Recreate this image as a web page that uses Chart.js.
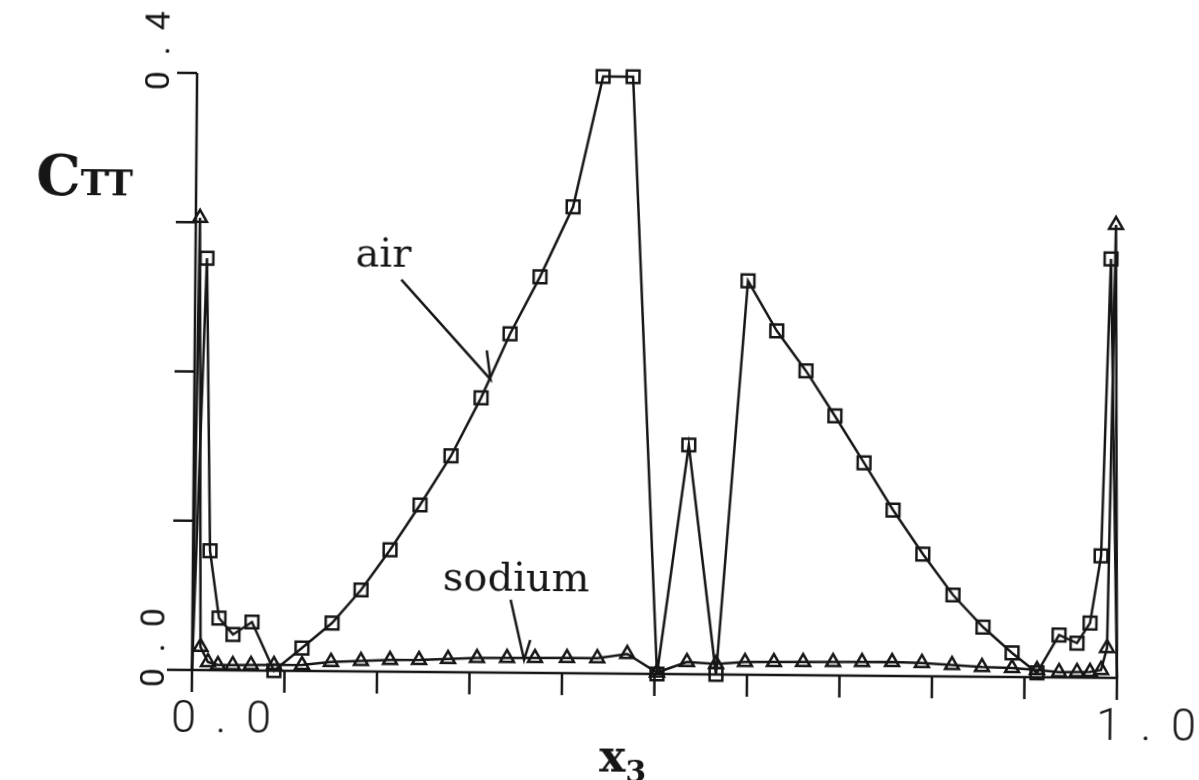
<!DOCTYPE html>
<html>
<head>
<meta charset="utf-8">
<script src="https://cdn.jsdelivr.net/npm/chart.js@4.4.1/dist/chart.umd.min.js"></script>
<style>
  html, body { margin: 0; padding: 0; background: #fff; overflow: hidden; }
  /* the scanned figure is slightly tilted */
  #wrap { width: 1199px; height: 780px; transform: rotate(0.49deg); transform-origin: 192px 670px; }
</style>
</head>
<body>
<div id="wrap"><canvas id="chart" width="1199" height="780"></canvas></div>
<script>
// air (squares)
const airX = [0, 0.0124, 0.0184, 0.0287, 0.044, 0.0644, 0.0886, 0.1187, 0.151, 0.182, 0.213, 0.245, 0.278, 0.310,
  0.3407, 0.3726, 0.4077, 0.439, 0.4714, 0.5027, 0.535, 0.5665, 0.5975, 0.629, 0.661, 0.6927, 0.7246, 0.7564,
  0.789, 0.822, 0.8547, 0.8864, 0.9135, 0.937, 0.9565, 0.9704, 0.9817, 0.9897, 1.0];
const airY = [0, 0.276, 0.080, 0.035, 0.024, 0.0325, 0, 0.0154, 0.0323, 0.0546, 0.0816, 0.1119, 0.1449, 0.184,
  0.227, 0.2654, 0.3125, 0.4, 0.4, 0, 0.1536, 0, 0.2639, 0.2306, 0.2039, 0.1739, 0.1426, 0.1112,
  0.0819, 0.0546, 0.0333, 0.0161, 0.003, 0.0284, 0.0231, 0.0366, 0.0816, 0.2807, 0];

// sodium (triangles)
const sodiumX = [0, 0.0045, 0.009, 0.0172, 0.028, 0.044, 0.0637, 0.0886, 0.1189, 0.1502, 0.1826, 0.214, 0.2454,
  0.2767, 0.308, 0.3405, 0.3707, 0.4053, 0.438, 0.4704, 0.5027, 0.535, 0.5665, 0.5978, 0.629, 0.6606, 0.693,
  0.7243, 0.7568, 0.789, 0.8216, 0.854, 0.8865, 0.9135, 0.9373, 0.9567, 0.9708, 0.9827, 0.989, 0.9948, 1.0];
const sodiumY = [0, 0.303, 0.0155, 0.0054, 0.0035, 0.0036, 0.0037, 0.0038, 0.004, 0.0062, 0.007, 0.0078, 0.008,
  0.0088, 0.0097, 0.0098, 0.010, 0.0102, 0.0103, 0.0132, 0.001, 0.0082, 0.007, 0.0085, 0.0087, 0.0088, 0.009,
  0.0092, 0.0093, 0.0089, 0.0077, 0.0065, 0.006, 0.0048, 0.0036, 0.0037, 0.0038, 0.0052, 0.020, 0.3035, 0];

// axes
const xTicks = [0, 0.1, 0.2, 0.3, 0.4, 0.5, 0.6, 0.7, 0.8, 0.9, 1.0];
const yTicks = [0, 0.1, 0.2, 0.3, 0.4];
const xTickLabels = [[0, '0.0'], [1, '1.0']];
const yTickLabels = [[0, '0.0'], [0.4, '0.4']];

const INK = '#161616';

function toPoints(xs, ys) {
  return xs.map((x, i) => ({ x: x, y: ys[i] }));
}

// no marker on the wall points
function wallRadius(r) {
  return ctx => (ctx.dataIndex === 0 || ctx.dataIndex === ctx.dataset.data.length - 1) ? 0 : r;
}

// axis lines, ticks, labels and annotations
const figurePlugin = {
  id: 'figure',
  beforeDatasetsDraw(chart) {
    const { ctx, scales: { x, y } } = chart;
    const x0 = x.getPixelForValue(0), x1 = x.getPixelForValue(1);
    const y0 = y.getPixelForValue(0), yTop = y.getPixelForValue(0.4);
    ctx.save();
    ctx.strokeStyle = INK;
    ctx.lineWidth = 2.5;
    ctx.beginPath();
    ctx.moveTo(x0, yTop); ctx.lineTo(x0, y0 + 22);
    ctx.moveTo(x0 - 25, y0); ctx.lineTo(x1, y0);
    yTicks.forEach(v => {
      if (v === 0) return;
      const p = y.getPixelForValue(v);
      ctx.moveTo(x0 - 20, p); ctx.lineTo(x0, p);
    });
    xTicks.forEach(v => {
      if (v === 0) return;
      const p = x.getPixelForValue(v);
      ctx.moveTo(p, y0); ctx.lineTo(p, y0 + 22);
    });
    ctx.stroke();

    // tick labels, drawn one character at a time like a plotter
    ctx.fillStyle = INK;
    ctx.textAlign = 'center';
    ctx.textBaseline = 'alphabetic';
    ctx.font = '300 45px Roboto';
    xTickLabels.forEach(([v, txt]) => {
      const p = x.getPixelForValue(v);
      [...txt].forEach((ch, i) => ctx.fillText(ch, p - 8 + i * 37.5, y0 + 62));
    });
    ctx.font = '34px Roboto';
    yTickLabels.forEach(([v, txt]) => {
      const p = y.getPixelForValue(v);
      [...txt].forEach((ch, i) => {
        ctx.save();
        ctx.translate(x0 - 28, p + 8 - i * 30);
        ctx.rotate(-Math.PI / 2);
        ctx.fillText(ch, 0, 0);
        ctx.restore();
      });
    });

    // axis titles
    ctx.textAlign = 'left';
    ctx.font = 'bold 56px "DejaVu Serif"';
    ctx.fillText('C', 32, 196);
    const cw = ctx.measureText('C').width;
    ctx.font = 'bold 36px "DejaVu Serif"';
    ctx.fillText('TT', 32 + cw, 196);

    ctx.font = 'bold 44px "DejaVu Serif"';
    ctx.fillText('x', 600, 768);
    const xw = ctx.measureText('x').width;
    ctx.font = 'bold 30px "DejaVu Serif"';
    ctx.fillText('3', 600 + xw, 778);

    // curve labels with arrows
    ctx.font = '40px "DejaVu Serif"';
    const px = v => x.getPixelForValue(v), py = v => y.getPixelForValue(v);
    ctx.fillText('air', px(0.173), py(0.2714));
    ctx.fillText('sodium', px(0.2703), py(0.055));
    ctx.beginPath();
    ctx.moveTo(px(0.2227), py(0.2627)); ctx.lineTo(px(0.32), py(0.1964));
    ctx.lineTo(px(0.3157), py(0.2158));
    ctx.moveTo(px(0.3438), py(0.0489)); ctx.lineTo(px(0.3589), py(0.0087));
    ctx.lineTo(px(0.3654), py(0.0221));
    ctx.stroke();
    ctx.restore();
  }
};

new Chart(document.getElementById('chart'), {
  type: 'scatter',
  data: {
    datasets: [
      {
        label: 'air',
        data: toPoints(airX, airY),
        showLine: true,
        borderColor: INK,
        borderWidth: 2.5,
        pointStyle: 'rect',
        pointRadius: wallRadius(9),
        pointBorderWidth: 2.5,
        pointBorderColor: INK,
        pointBackgroundColor: 'rgba(0,0,0,0)',
        clip: false
      },
      {
        label: 'sodium',
        data: toPoints(sodiumX, sodiumY),
        showLine: true,
        borderColor: INK,
        borderWidth: 2.5,
        pointStyle: 'triangle',
        pointRadius: wallRadius(8),
        pointBorderWidth: 2.5,
        pointBorderColor: INK,
        pointBackgroundColor: 'rgba(0,0,0,0)',
        clip: false
      }
    ]
  },
  options: {
    responsive: false,
    animation: false,
    devicePixelRatio: 1,
    layout: { padding: { left: 192, right: 82, top: 73, bottom: 110 } },
    plugins: { legend: { display: false }, tooltip: { enabled: false } },
    scales: {
      x: { type: 'linear', min: 0, max: 1, display: false },
      y: { type: 'linear', min: 0, max: 0.4, display: false }
    }
  },
  plugins: [figurePlugin]
});
</script>
</body>
</html>
